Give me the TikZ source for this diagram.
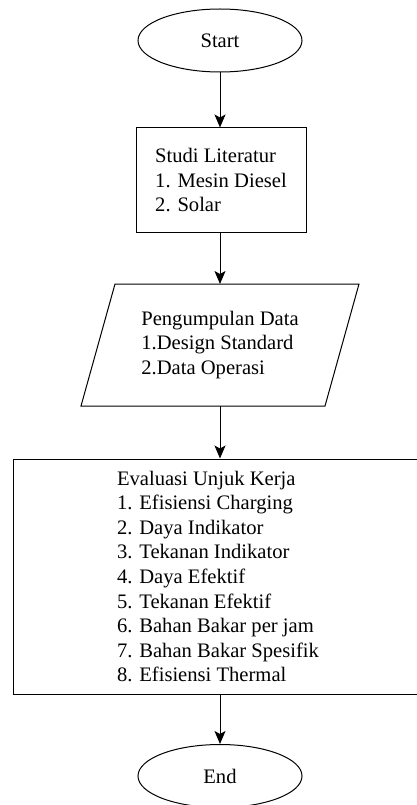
\documentclass[tikz,border=0pt]{standalone}
\usepackage{fontspec}
\setmainfont{LiberationSerif}[Extension=.ttf, UprightFont=*-Regular]
\usetikzlibrary{shapes.geometric,arrows.meta}
\begin{document}
\begin{tikzpicture}[x=1pt,y=-1pt,
  every node/.style={font=\fontsize{20.6}{24.6}\selectfont, line width=1pt},
  terminal/.style={draw, ellipse, minimum width=164pt, minimum height=63pt, inner sep=0pt},
  process/.style={draw, rectangle, align=left, inner sep=0pt},
  iobox/.style={rectangle, align=left, inner sep=0pt, outer sep=0pt},
  outline/.style={line width=1pt, line join=miter},
  flow/.style={draw, line width=1pt, -{Stealth[length=13pt,width=11pt,inset=3pt]}}
]
\useasboundingbox (0,0) rectangle (417,805);

% flowchart blocks
\node[terminal] (start) at (220,40.5) {Start};
\node[process, minimum width=170pt, minimum height=104pt] (lit) at (221,180)
  {Studi Literatur\\1. Mesin Diesel\\2. Solar};
\node[iobox, minimum width=278pt, minimum height=122pt] (data) at (220,345)
  {Pengumpulan Data\\1.Design Standard\\2.Data Operasi};
% input/output parallelogram around the data block
\draw[outline] ([xshift=34pt]data.north west) -- (data.north east)
  -- ([xshift=-34pt]data.south east) -- (data.south west) -- cycle;
\node[process, minimum width=410pt, minimum height=235pt] (eval) at (218,576.5)
  {Evaluasi Unjuk Kerja\\1. Efisiensi Charging\\2. Daya Indikator\\3. Tekanan Indikator\\%
   4. Daya Efektif\\5. Tekanan Efektif\\6. Bahan Bakar per jam\\7. Bahan Bakar Spesifik\\%
   8. Efisiensi Thermal};
\node[terminal] (end) at (220,776) {End};

% connectors
\draw[flow] (start.south) -- (start.south |- lit.north);
\draw[flow] (start.south |- lit.south) -- (start.south |- data.north);
\draw[flow] (data.south) -- (data.south |- eval.north);
\draw[flow] (data.south |- eval.south) -- (end.north);
\end{tikzpicture}
\end{document}
